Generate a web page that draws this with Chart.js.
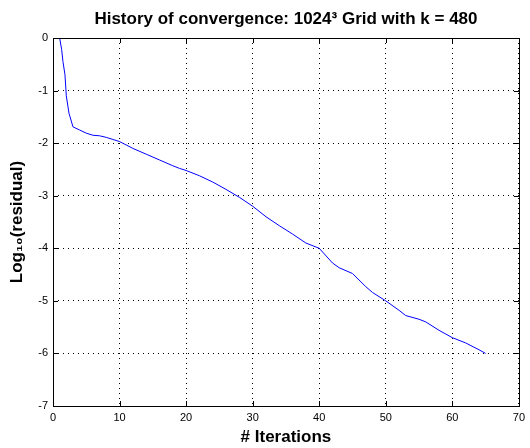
<!DOCTYPE html>
<html>
<head>
<meta charset="utf-8">
<script src="https://cdn.jsdelivr.net/npm/chart.js@4/dist/chart.umd.min.js"></script>
<style>
  html, body { margin: 0; padding: 0; background: #fff; }
  #wrap { width: 530px; height: 448px; }
</style>
</head>
<body>
<div id="wrap"><canvas id="conv"></canvas></div>
<script>
    "use strict";

    // Data
    var iterations = [1, 1.3, 1.5, 1.8, 2, 2.4, 3, 4, 5, 6, 7, 8, 9, 10, 12, 14, 16, 18, 19, 20,
        22, 24, 26, 28, 30, 32, 34, 36, 38, 40, 42, 43, 45, 47, 48, 50, 52, 53, 55, 56,
        58, 60, 62, 64, 65];
    var logResidual = [0, -0.22, -0.45, -0.7, -1.1, -1.43, -1.69, -1.75, -1.81, -1.85, -1.86, -1.89, -1.93, -1.97, -2.10, -2.21, -2.32, -2.43, -2.48, -2.52,
        -2.62, -2.74, -2.88, -3.03, -3.20, -3.40, -3.57, -3.73, -3.90, -4.00, -4.28, -4.37, -4.48, -4.73, -4.84, -5.00, -5.18, -5.28, -5.35, -5.40,
        -5.56, -5.70, -5.80, -5.93, -6.00];
    var xTicks = [0, 10, 20, 30, 40, 50, 60, 70];
    var yTicks = [-7, -6, -5, -4, -3, -2, -1, 0];

    var points = iterations.map(function (x, i) {
        return {x: x, y: logResidual[i]};
    });

    var font = "'Liberation Sans', Arial, Helvetica, sans-serif";

    // Box round the axes and MATLAB style inward ticks
    var boxTicks = {
        id: "boxTicks",
        afterLayout: function (chart) {
            // centre the title over the plot area, not the whole canvas
            if (chart.titleBlock) {
                chart.titleBlock.left = chart.chartArea.left;
                chart.titleBlock.right = chart.chartArea.right;
            }
        },
        afterDraw: function (chart) {
            var ctx = chart.ctx, a = chart.chartArea;
            var xs = chart.scales.x, ys = chart.scales.y;
            var len = 5;
            ctx.save();
            ctx.strokeStyle = "#000";
            ctx.lineWidth = 1;
            ctx.beginPath();
            xTicks.forEach(function (t) {
                var px = Math.round(xs.getPixelForValue(t)) + 0.5;
                ctx.moveTo(px, a.bottom); ctx.lineTo(px, a.bottom - len);
                ctx.moveTo(px, a.top); ctx.lineTo(px, a.top + len);
            });
            yTicks.forEach(function (t) {
                var py = Math.round(ys.getPixelForValue(t)) + 0.5;
                ctx.moveTo(a.left, py); ctx.lineTo(a.left + len, py);
                ctx.moveTo(a.right, py); ctx.lineTo(a.right - len, py);
            });
            ctx.stroke();
            ctx.strokeRect(Math.round(a.left) + 0.5, Math.round(a.top) + 0.5,
                Math.round(a.right - a.left), Math.round(a.bottom - a.top));
            ctx.restore();
        }
    };

    var ctx1 = document.getElementById("conv").getContext("2d");
    var myChart1 = new Chart(ctx1, {
        type: "line",
        data: {
            datasets: [{
                label: "residual",
                data: points,
                borderColor: "#0000ff",
                borderWidth: 1,
                pointRadius: 0,
                tension: 0,
                fill: false
            }]
        },
        options: {
            responsive: true,
            maintainAspectRatio: false,
            animation: false,
            layout: {padding: {right: 6, top: 0, left: 0, bottom: 0}},
            plugins: {
                legend: {display: false},
                tooltip: {enabled: false},
                title: {
                    display: true,
                    text: "History of convergence: 1024³ Grid with k = 480",
                    color: "#000",
                    font: {family: font, size: 17, weight: "bold"},
                    padding: {top: 9, bottom: 8.6}
                }
            },
            scales: {
                x: {
                    type: "linear",
                    min: 0,
                    max: 70,
                    afterBuildTicks: function (s) {
                        s.ticks = xTicks.map(function (v) { return {value: v}; });
                    },
                    afterFit: function (s) { s.height = 42; },
                    ticks: {color: "#000", font: {family: font, size: 11}, padding: 5, maxRotation: 0},
                    grid: {color: "#000", drawTicks: false, lineWidth: 1},
                    border: {display: false, dash: [1, 4]},
                    title: {
                        display: true,
                        text: "# Iterations",
                        color: "#000",
                        font: {family: font, size: 17, weight: "bold"},
                        padding: {top: 0, bottom: 0}
                    }
                },
                y: {
                    type: "linear",
                    min: -7,
                    max: 0,
                    afterBuildTicks: function (s) {
                        s.ticks = yTicks.map(function (v) { return {value: v}; });
                    },
                    afterFit: function (s) { s.width = 53; },
                    ticks: {color: "#000", font: {family: font, size: 11}, padding: 5},
                    grid: {color: "#000", drawTicks: false, lineWidth: 1},
                    border: {display: false, dash: [1, 4]},
                    title: {
                        display: true,
                        text: "Log₁₀(residual)",
                        color: "#000",
                        font: {family: font, size: 17, weight: "bold"},
                        padding: {top: 7, bottom: 0}
                    }
                }
            }
        },
        plugins: [boxTicks]
    });
</script>
</body>
</html>
